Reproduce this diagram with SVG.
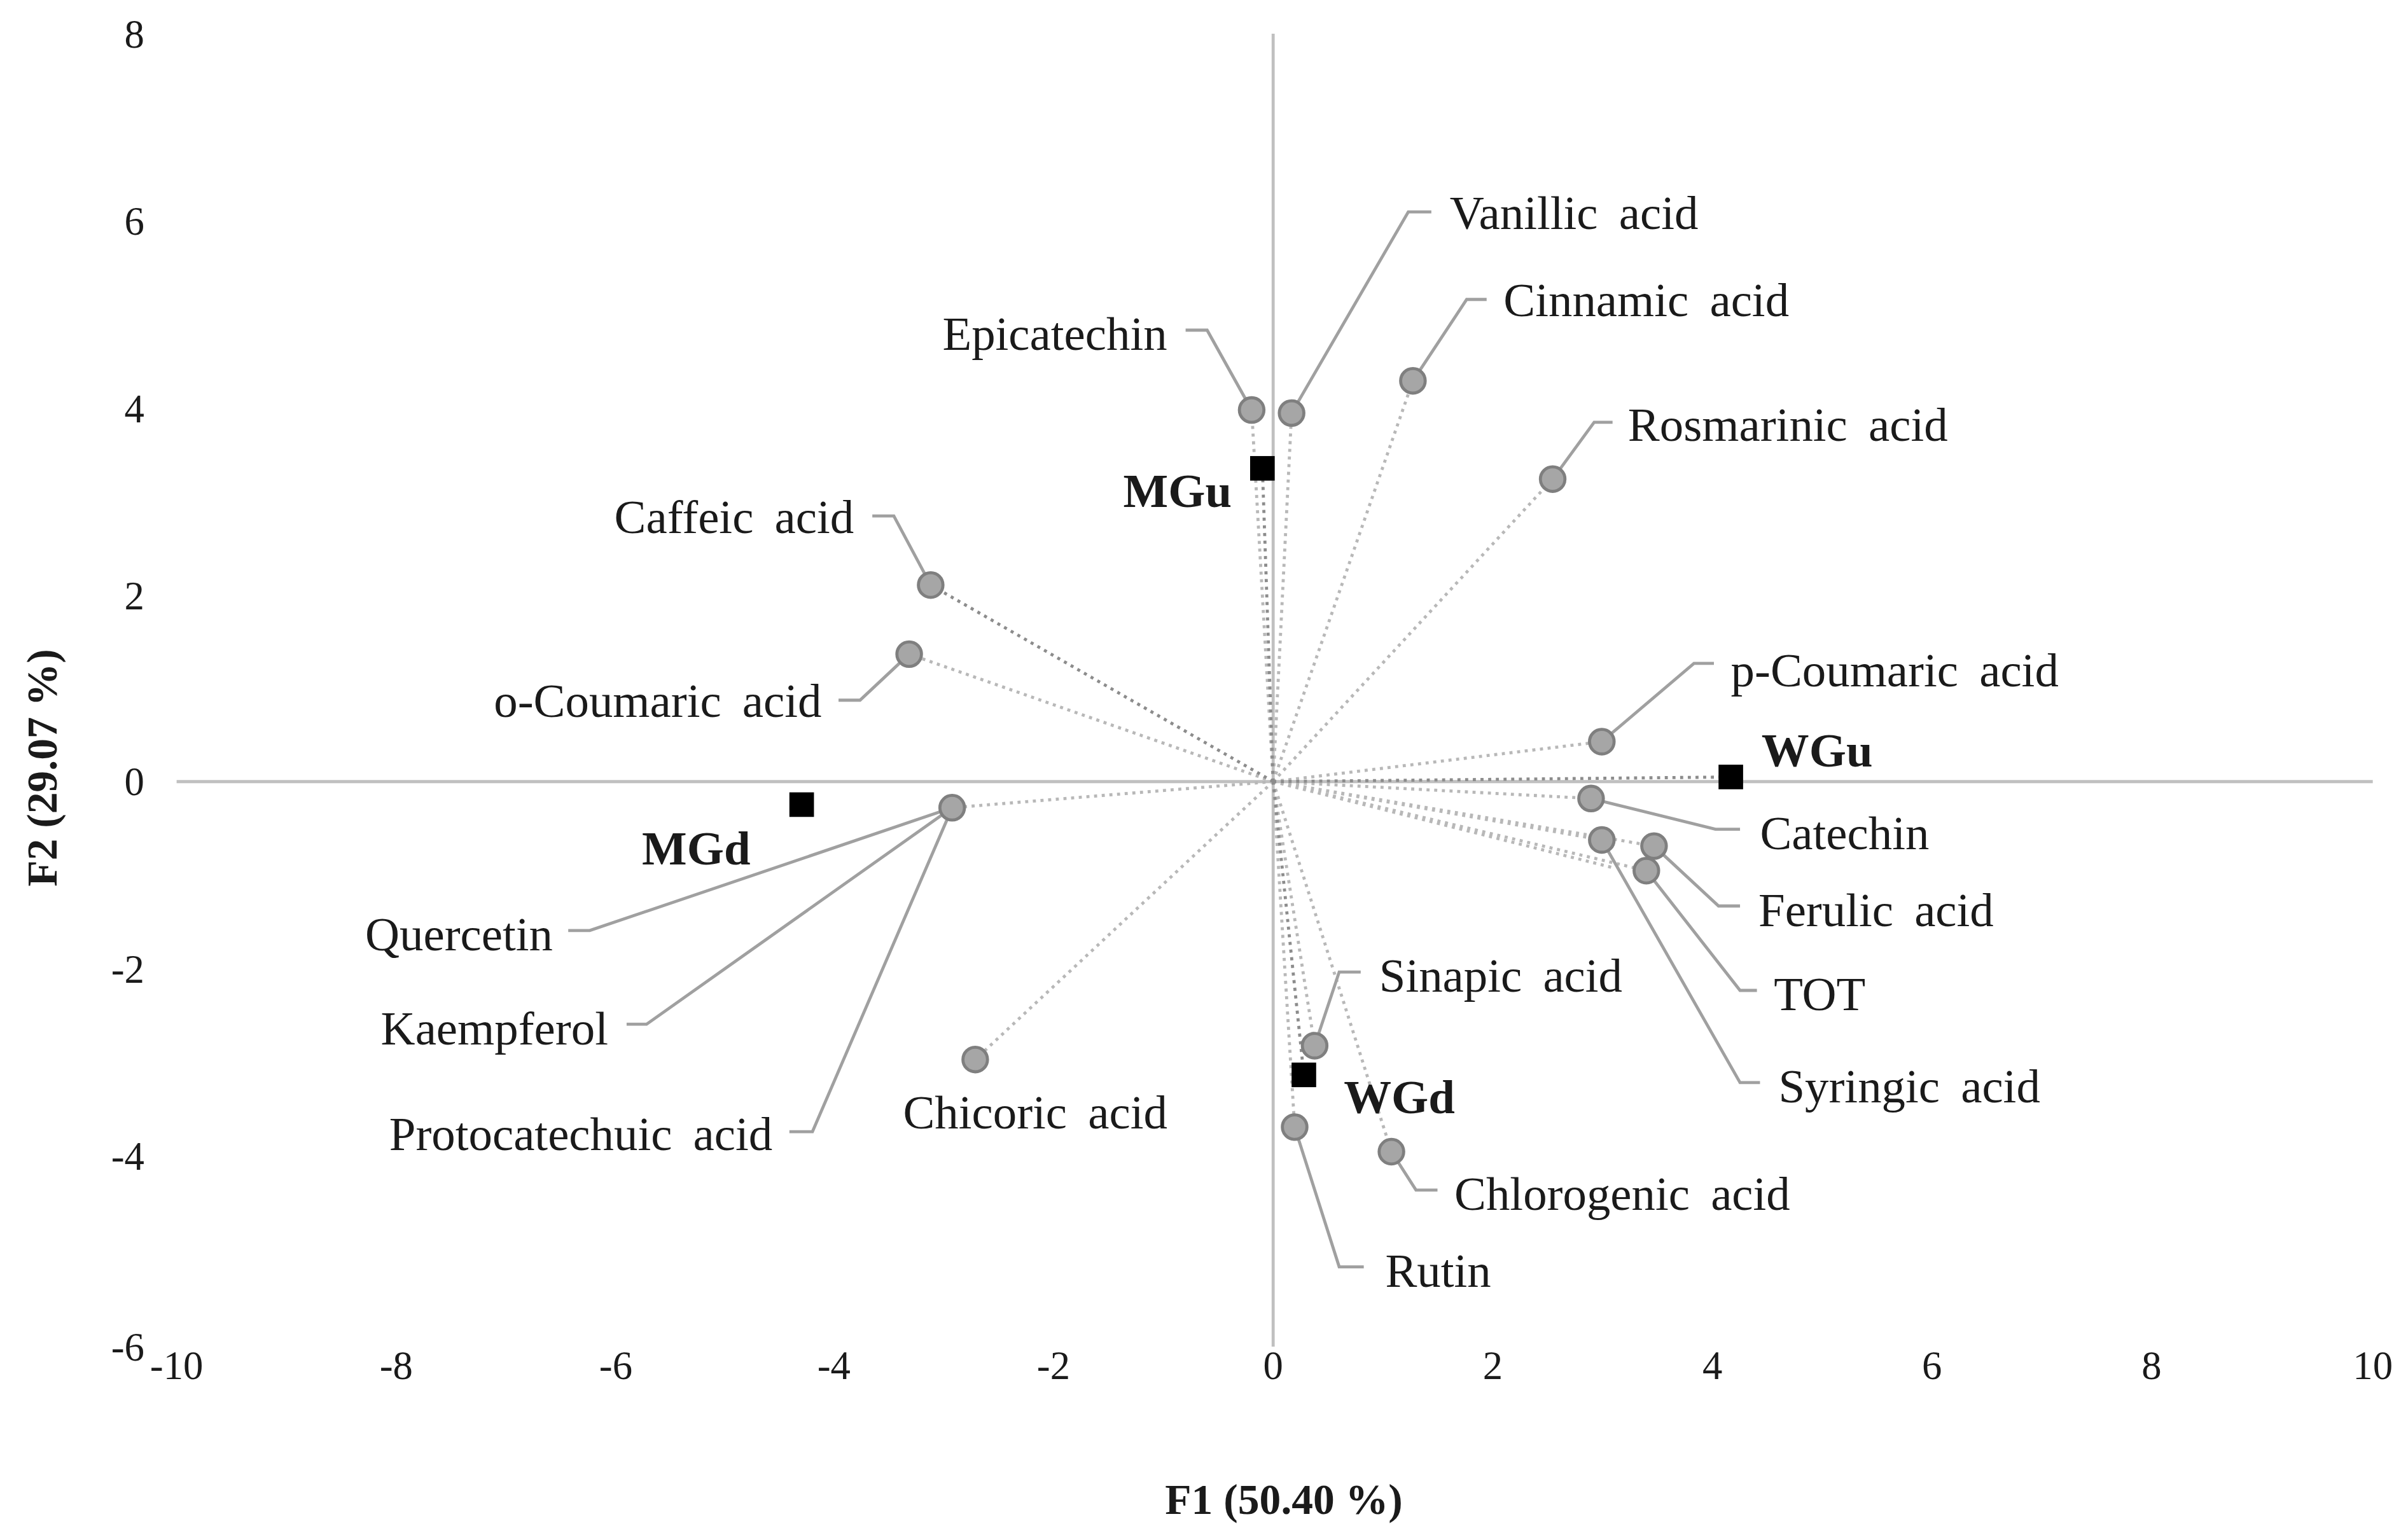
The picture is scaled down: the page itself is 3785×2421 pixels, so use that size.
<svg xmlns="http://www.w3.org/2000/svg" width="3785" height="2421" viewBox="0 0 3785 2421">
<style>
text{font-family:"Liberation Serif","Times New Roman",serif;fill:#1a1a1a}
.t{font-size:26px}
.l{font-size:31px;word-spacing:6px}
.b{font-size:31px;font-weight:bold}
.ax{font-size:28px;font-weight:bold}
.d{stroke:#b8b8b8;stroke-width:2;stroke-dasharray:2 3;fill:none}
.dd{stroke:#8c8c8c;stroke-width:2;stroke-dasharray:2 3;fill:none}
.ld{stroke:#a0a0a0;stroke-width:2;fill:none}
.pt{fill:#a6a6a6;stroke:#7f7f7f;stroke-width:2}
.sq{fill:#000}
</style>
<rect width="3785" height="2421" fill="#fff"/>
<g transform="scale(2.414)">
<g id="axes">
<line x1="115" y1="509" x2="1545" y2="509" stroke="#c0c0c0" stroke-width="2"/>
<line x1="829" y1="22" x2="829" y2="877" stroke="#c0c0c0" stroke-width="2"/>
<g class="t" text-anchor="end">
<text x="94" y="31">8</text><text x="94" y="153">6</text><text x="94" y="275">4</text><text x="94" y="397">2</text><text x="94" y="518">0</text><text x="94" y="640">-2</text><text x="94" y="762">-4</text><text x="94" y="886">-6</text>
</g>
<g class="t" text-anchor="middle">
<text x="115" y="898">-10</text><text x="258" y="898">-8</text><text x="401" y="898">-6</text><text x="543" y="898">-4</text><text x="686" y="898">-2</text><text x="829" y="898">0</text><text x="972" y="898">2</text><text x="1115" y="898">4</text><text x="1258" y="898">6</text><text x="1401" y="898">8</text><text x="1545" y="898">10</text>
</g>
<text class="ax" x="836" y="986" text-anchor="middle">F1 (50.40 %)</text>
<text class="ax" transform="translate(37,500) rotate(-90)" text-anchor="middle">F2 (29.07 %)</text>
</g>
<g id="connectors">
<path class="d" d="M829 509L815 267M829 509L841 269M829 509L920 248M829 509L1011 312M829 509L592 426M829 509L1043 483M829 509L1036 520M829 509L1043 547M829 509L1077 551M829 509L1072 567M829 509L620 526M829 509L635 690M829 509L856 681M829 509L843 734M829 509L906 750M829 509L1050 565"/>
<path class="dd" d="M829 509L606 381M829 509L822 305M829 509L849 700M829 509L1127 506"/>
<path class="ld" d="M815 267L786 215H772M841 269L917 138H932M920 248L955 195H968M1011 312L1038 275H1050M606 381L582 336H568M592 426L560 456H546M1043 483L1103 432H1116M1036 520L1117 540H1133M1077 551L1119 590H1133M1072 567L1133 645H1144M1043 547L1133 705H1146M620 526L384 606H370M620 526L421 667H408M620 526L529 737H514M856 681L872 633H886M906 750L922 775H936M843 734L872 825H888"/>
</g>
<g id="points">
<circle class="pt" cx="815" cy="267" r="8"/><circle class="pt" cx="841" cy="269" r="8"/><circle class="pt" cx="920" cy="248" r="8"/><circle class="pt" cx="1011" cy="312" r="8"/><circle class="pt" cx="606" cy="381" r="8"/><circle class="pt" cx="592" cy="426" r="8"/><circle class="pt" cx="1043" cy="483" r="8"/><circle class="pt" cx="1036" cy="520" r="8"/><circle class="pt" cx="1043" cy="547" r="8"/><circle class="pt" cx="1077" cy="551" r="8"/><circle class="pt" cx="1072" cy="567" r="8"/><circle class="pt" cx="620" cy="526" r="8"/><circle class="pt" cx="635" cy="690" r="8"/><circle class="pt" cx="856" cy="681" r="8"/><circle class="pt" cx="843" cy="734" r="8"/><circle class="pt" cx="906" cy="750" r="8"/>
</g>
<g id="samples">
<rect class="sq" x="814" y="297" width="16" height="16"/><rect class="sq" x="514" y="516" width="16" height="16"/><rect class="sq" x="1119" y="498" width="16" height="16"/><rect class="sq" x="841" y="692" width="16" height="16"/>
<text class="b" x="802" y="330" text-anchor="end">MGu</text><text class="b" x="418" y="563">MGd</text><text class="b" x="1147" y="499">WGu</text><text class="b" x="875" y="725">WGd</text>
</g>
<g id="labels" class="l">
<text x="760" y="228" text-anchor="end">Epicatechin</text>
<text x="944" y="149">Vanillic acid</text>
<text x="979" y="206">Cinnamic acid</text>
<text x="1060" y="287">Rosmarinic acid</text>
<text x="556" y="347" text-anchor="end">Caffeic acid</text>
<text x="535" y="467" text-anchor="end">o-Coumaric acid</text>
<text x="1127" y="447">p-Coumaric acid</text>
<text x="1146" y="553">Catechin</text>
<text x="1145" y="603">Ferulic acid</text>
<text x="1155" y="658">TOT</text>
<text x="1158" y="718">Syringic acid</text>
<text x="360" y="619" text-anchor="end">Quercetin</text>
<text x="396" y="680" text-anchor="end">Kaempferol</text>
<text x="503" y="749" text-anchor="end">Protocatechuic acid</text>
<text x="588" y="735">Chicoric acid</text>
<text x="898" y="646">Sinapic acid</text>
<text x="947" y="788">Chlorogenic acid</text>
<text x="902" y="838">Rutin</text>
</g>
</g>
</svg>
